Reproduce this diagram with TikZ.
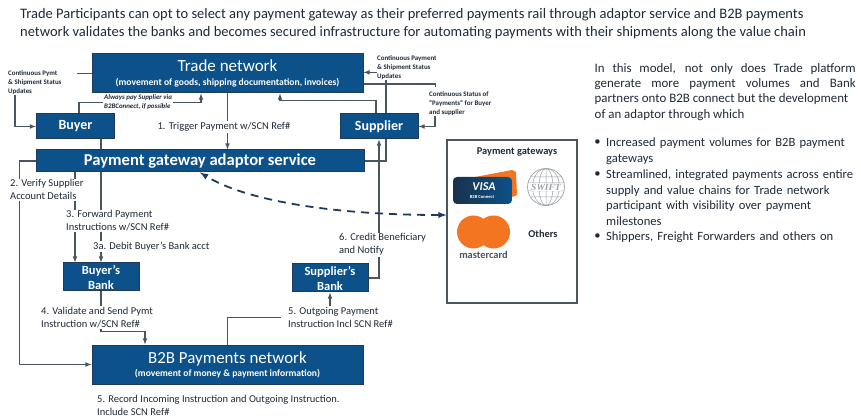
\documentclass[tikz,border=0pt]{standalone}
\usepackage{fontspec}
\setmainfont{Carlito}
\newfontfamily\serifswift{Liberation Serif}
\usetikzlibrary{backgrounds}
\definecolor{boxblue}{HTML}{0C5189}
\definecolor{boxedge}{HTML}{1F3A5A}
\definecolor{ink}{HTML}{1E2A38}
\definecolor{wire}{HTML}{4A5560}
\definecolor{mcorange}{HTML}{F47521}
\definecolor{swiftgray}{HTML}{9AA3A8}
\newcommand{\fsz}[2]{\fontsize{#1}{#2}\selectfont}
\begin{document}
\begin{tikzpicture}[x=1pt,y=-1pt,>=latex,
    blue box/.style={rectangle,draw=boxedge,fill=boxblue,line width=1pt,text=white,inner sep=0pt,align=center},
    big/.style={blue box,minimum width=271pt,minimum height=39pt},
    party/.style={blue box,minimum width=78pt,minimum height=25pt,font=\fsz{14}{16}\bfseries},
    bank/.style={blue box,minimum width=76pt,minimum height=28pt,font=\fsz{12.5}{15}\bfseries},
    lbl/.style={fill=white,text=ink,inner sep=1pt,align=left,font=\fsz{10.5}{13}},
    tiny/.style={text=ink,inner sep=0pt,align=left,font=\fsz{6.9}{9.2}\bfseries},
    wired/.style={draw=wire,line width=1.1pt},
    prose/.style={text=ink,inner sep=0pt,anchor=north west,font=\fsz{12.9}{15.4}},
    bullet item/.style={prose,text width=256pt,align=left,font=\fsz{12.6}{15.6}},
    bullet dot/.style={text=ink,inner sep=0pt,font=\fsz{12.6}{15.6}}]
    \useasboundingbox (0,0) rectangle (861,419);

    \node[text=ink,inner sep=0pt,anchor=north west,align=left,font=\fsz{14.5}{17.8}] (heading) at (20,8) {Trade Participants can opt to select any payment gateway as their preferred payments rail through adaptor service and B2B payments\\network validates the banks and becomes secured infrastructure for automating payments with their shipments along the value chain};

    \node[big] (trade) at (227.5,73.5) {{\fsz{17}{20}Trade network}\\[1.5pt]{\fsz{9.6}{12}\bfseries (movement of goods, shipping documentation, invoices)}};
    \node[big] (b2b) at (227.5,364.5) {{\fsz{16.9}{20}B2B Payments network}\\[1pt]{\fsz{9.6}{11}\bfseries (movement of money \& payment information)}};
    \node[party] (buyer) at (75.5,126.5) {Buyer};
    \node[party] (supplier) at (379,126.5) {Supplier};
    \node[blue box,minimum width=328pt,minimum height=22pt,font=\fsz{16.6}{20}\bfseries] (adaptor) at (200,161) {Payment gateway adaptor service};
    \node[bank] (buyerbank) at (101,277) {Buyer's\\Bank};
    \node[bank] (supplierbank) at (330,278) {Supplier's\\Bank};

    \node[tiny,anchor=north west] (leftstatus) at (8,70) {Continuous Pymt\\\& Shipment Status\\Updates};
    \node[tiny,anchor=north west] (topstatus) at (377,55) {Continuous Payment\\\& Shipment Status\\Updates};
    \node[tiny,anchor=north west] (paystatus) at (429,91.5) {Continuous Status of\\``Payments'' for Buyer\\and supplier};
    \node[tiny,anchor=west,fill=white,font=\fsz{6.9}{9.2}\bfseries\itshape,inner sep=1pt] (alwayspay) at (103,102.5) {Always pay Supplier via\\B2BConnect, if possible};

    \node[lbl] (trigger) at (224,127) {1. Trigger Payment w/SCN Ref\#};
    \node[lbl,anchor=north west] (verify) at (9,178.5) {2. Verify Supplier\\Account Details};
    \node[lbl,anchor=north west] (forward) at (65,209.5) {3. Forward Payment\\Instructions w/SCN Ref\#};
    \node[lbl,anchor=west] (debit) at (92,246.5) {3a. Debit Buyer's Bank acct};
    \node[lbl,anchor=north west] (validate) at (40,306) {4. Validate and Send Pymt\\Instruction w/SCN Ref\#};
    \node[lbl,anchor=north west] (credit) at (338,232.5) {6. Credit Beneficiary\\and Notify};
    \node[lbl,anchor=north west] (outgoing) at (287,306) {5. Outgoing Payment\\Instruction Incl SCN Ref\#};
    \node[lbl,anchor=north west] (record) at (96,394) {5. Record Incoming Instruction and Outgoing Instruction.\\Include SCN Ref\#};

    \node[rectangle,draw=wire,line width=1.1pt,minimum width=130pt,minimum height=163pt,inner sep=0pt] (gateways) at (512,221.5) {};
    \node[text=ink,inner sep=0pt,font=\fsz{10.4}{12}\bfseries] (gatewaytitle) at (517,152) {Payment gateways};

    \fill[mcorange] (470,178) -- (512,170) -- (516,172) -- (517,195) -- (512,197) -- cycle;
    \shade[left color=boxedge!85!black,right color=boxblue,rounded corners=4pt] (453,177) rectangle (512,204);
    \node[text=white,inner sep=0pt,font=\fsz{12}{12}\bfseries\itshape] (visa) at (484,186.5) {VISA};
    \node[text=white,inner sep=0pt,font=\fsz{4.6}{5}\bfseries] (connect) at (482,197) {B2B Connect};

    \draw[swiftgray,line width=.7pt] (546,187) circle (18.5);
    \draw[swiftgray,line width=.5pt] (546,168.5) -- (546,205.5)
        (546,187) ellipse (7 and 18.5) (546,187) ellipse (13.5 and 18.5)
        (530.5,177) -- (561.5,177) (528,183) -- (564,183) (528,191) -- (564,191) (530.5,197) -- (561.5,197);
    \node[fill=white,text=swiftgray,inner sep=.6pt,font=\fsz{9.5}{10}\serifswift\bfseries\itshape] (swift) at (546,187) {SWIFT};

    \fill[mcorange] (473.5,232) circle (16.5) (493.5,232) circle (16.5);
    \node[text=wire,inner sep=0pt,font=\fsz{10.4}{11}\bfseries] (mastercard) at (483.5,255) {mastercard};
    \node[text=ink,inner sep=0pt,font=\fsz{10.4}{12}\bfseries] (others) at (543,234) {Others};

    \node[prose,text width=261pt,align=justify] (model) at (594.5,63) {In this model, not only does Trade platform\linebreak generate more payment volumes and Bank\linebreak partners onto B2B connect but the development\\of an adaptor through which};
    \node[bullet item] (item1) at (606,138) {Increased payment volumes for B2B payment\\gateways};
    \node[bullet item] (item2) at (606,169.5) {Streamlined, integrated payments across entire\\supply and value chains for Trade network\\participant with visibility over payment\\milestones};
    \node[bullet item] (item3) at (606,231.5) {Shippers, Freight Forwarders and others on};
    \foreach \i in {1,2,3}
        \node[bullet dot] (dot\i) at ([xshift=-8.5pt,yshift=-5pt]item\i.north west) {\textbullet};

    \begin{scope}[on background layer]
        \draw[wired] (trade.west) -- ++(-15,0);
        \draw[wired,->] ([xshift=7pt]leftstatus.south west) |- (buyer.west);
        \draw[wired] ([xshift=3.5pt]buyer.north) |- (alwayspay.west);
        \draw[wired,->] (alwayspay.east) -| ([xshift=-26.5pt]trade.south);
        \draw[wired,->] (trade.south) -- (adaptor.north -| trade.south);
        \draw[wired,->] ([xshift=-3pt]supplier.north) -- ++(0,-13) -| ([xshift=52.5pt]trade.south);
        \draw[wired,->] ([yshift=-5pt]topstatus.west) -- ([yshift=-5pt]topstatus.west -| trade.east);
        \draw[wired] ([xshift=7pt]supplier.north) -- ([xshift=9pt]topstatus.south west);
        \draw[wired] ([yshift=-10.5pt]trade.east) -- ++(72,0) -- ++(0,3);
        \draw[wired,->] ([xshift=6pt]paystatus.south west) |- (supplier.east);
        \draw[wired] (adaptor.east) -| ([xshift=7pt]supplier.south);
        \draw[wired] (buyer.south -| buyerbank) -- (adaptor.north -| buyerbank);
        \draw[wired,->] (adaptor.south -| buyerbank) -- (buyerbank.north);
        \draw[wired,->] ([xshift=-26pt]adaptor.south -| buyerbank) -- ([xshift=-26pt]buyerbank.north);
        \draw[wired,->] (adaptor.west) -- ++(-16,0) |- (b2b.west);
        \draw[wired,->] (buyerbank.south) -- ++(0,40) -| ([xshift=-82.5pt]b2b.north);
        \draw[wired] (b2b.north) |- ([xshift=-6pt]outgoing.west);
        \draw[wired,->] (outgoing.north -| supplierbank) -- (supplierbank.south);
        \draw[wired,->] (supplierbank.east) -| (supplier.south);
        \draw[<->,draw=boxedge,line width=1.8pt,dash pattern=on 8pt off 6pt] ([yshift=6.5pt]gateways.west) .. controls (330,215) and (245,200) .. (adaptor.south);
    \end{scope}
\end{tikzpicture}
\end{document}
